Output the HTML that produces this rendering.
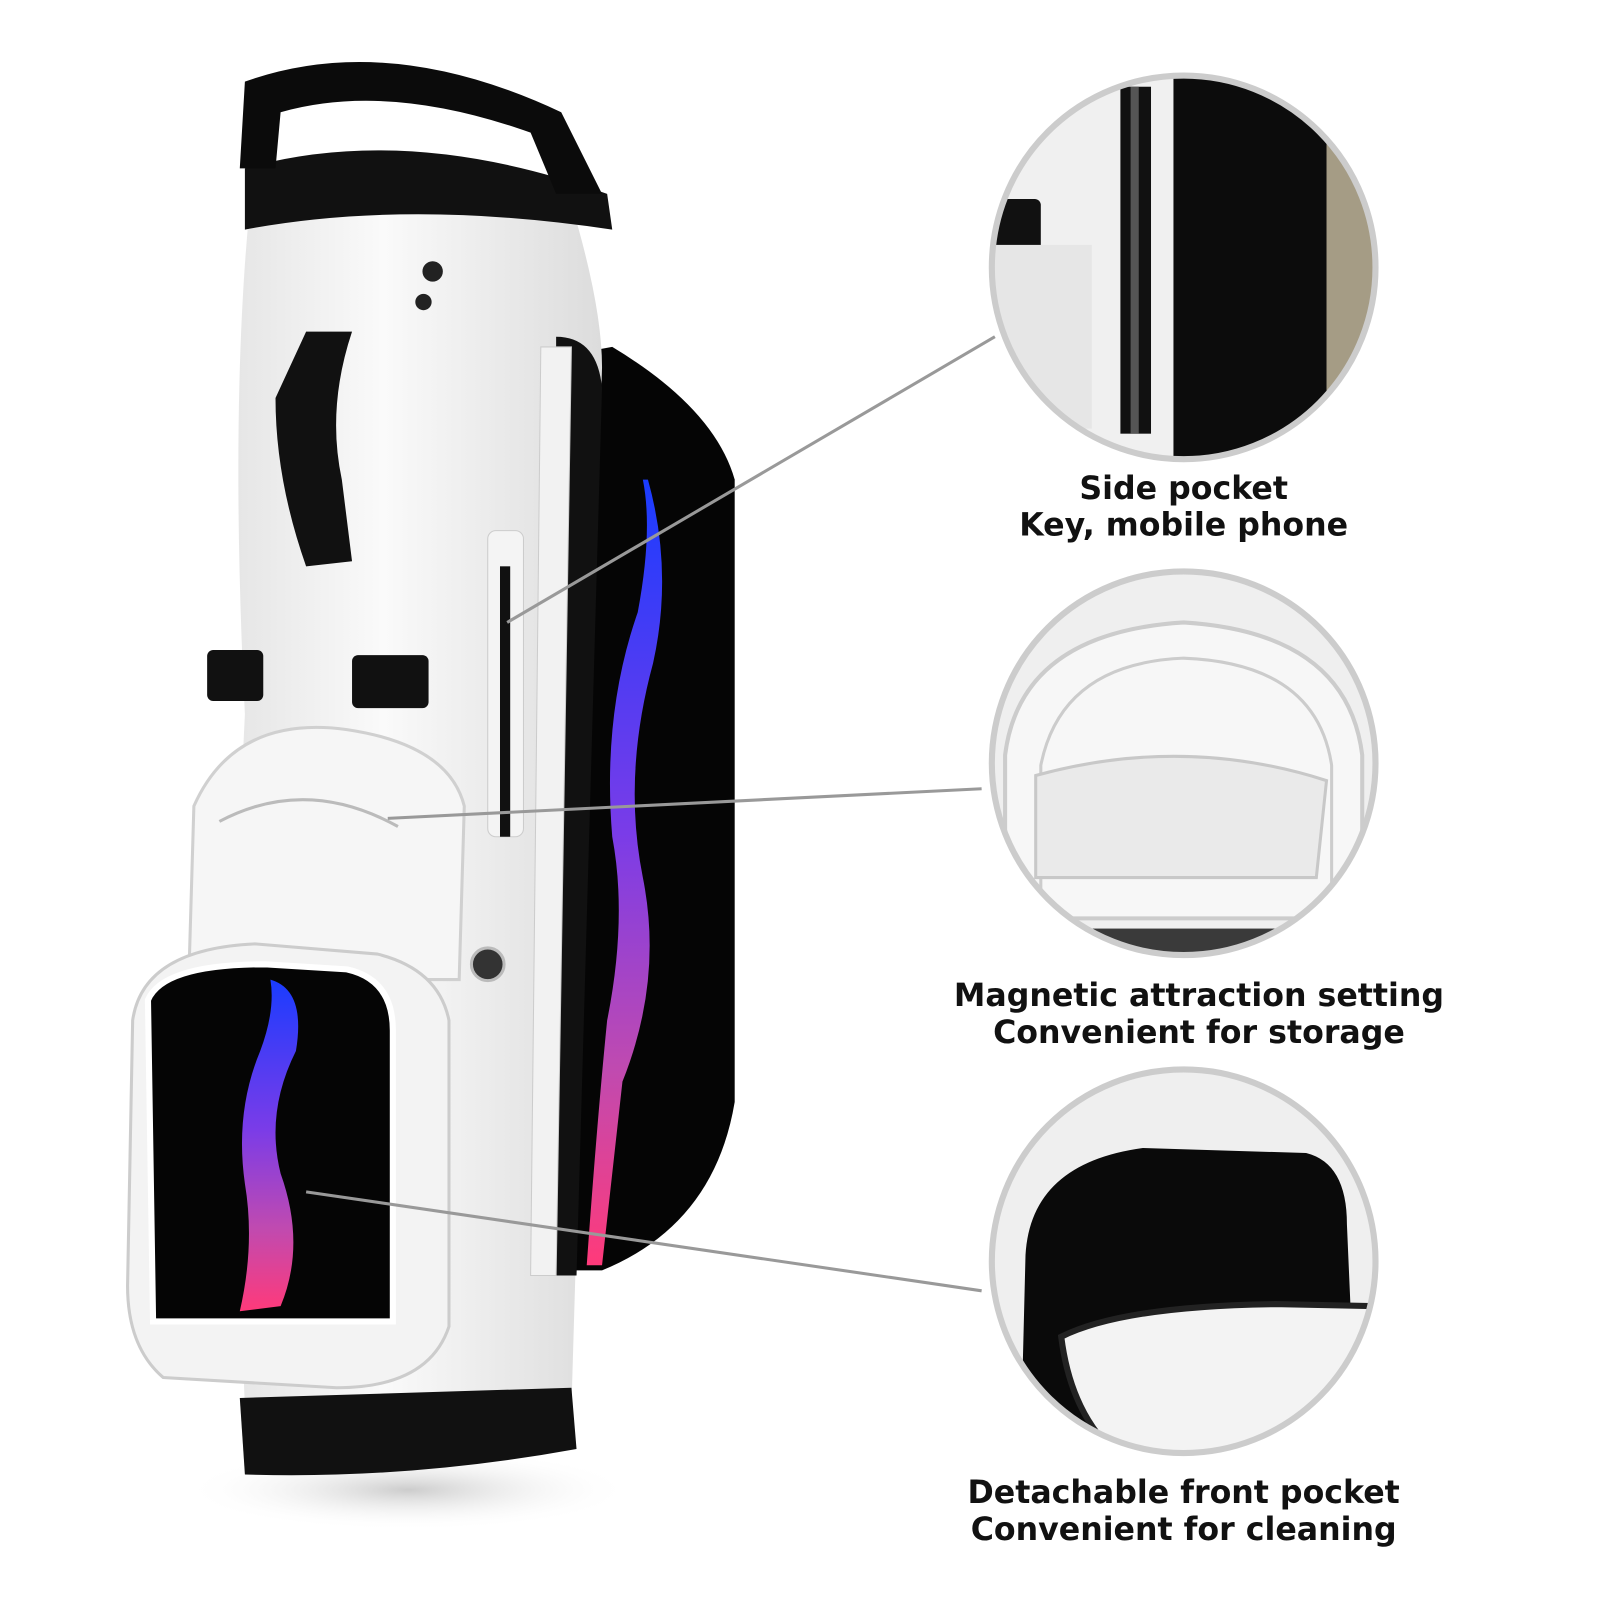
<!DOCTYPE html>
<html><head><meta charset="utf-8"><style>
html,body{margin:0;padding:0;background:#fff}
svg{display:block}
text{font-family:"DejaVu Sans","Liberation Sans",sans-serif;font-weight:bold;font-size:31px;fill:#111}
</style></head><body>
<svg width="1600" height="1600" viewBox="0 0 1600 1600" xmlns="http://www.w3.org/2000/svg">
<defs>
<linearGradient id="neb" x1="0" y1="0" x2="0" y2="1">
<stop offset="0" stop-color="#1a3cff"/><stop offset="0.45" stop-color="#7a3ce8"/><stop offset="0.75" stop-color="#c04ab0"/><stop offset="1" stop-color="#ff3a7a"/></linearGradient>
<linearGradient id="body" x1="0" y1="0" x2="1" y2="0">
<stop offset="0" stop-color="#e6e6e6"/><stop offset="0.4" stop-color="#fafafa"/><stop offset="1" stop-color="#dcdcdc"/></linearGradient>
<clipPath id="c1"><circle cx="1160" cy="262" r="188"/></clipPath>
<clipPath id="c2"><circle cx="1160" cy="748" r="188"/></clipPath>
<clipPath id="c3"><circle cx="1160" cy="1236" r="188"/></clipPath>
<radialGradient id="sh" cx="0.5" cy="0.5" r="0.5"><stop offset="0" stop-color="#ccc"/><stop offset="1" stop-color="#fff" stop-opacity="0"/></radialGradient>
</defs>
<g transform="scale(1.0204)">
<ellipse cx="400" cy="1460" rx="220" ry="40" fill="url(#sh)"/>
<path d="M600 340 Q700 400 720 470 L720 1080 Q700 1200 590 1245 L545 1245 L545 350 Z" fill="#050505"/>
<path d="M635 470 Q660 560 640 650 Q610 760 630 860 Q650 960 610 1060 Q600 1150 590 1240 L575 1240 Q585 1100 595 1000 Q615 900 600 820 Q590 700 625 600 Q640 520 630 470 Z" fill="url(#neb)"/>
<path d="M245 200 L560 200 Q590 300 590 360 L560 1380 L240 1380 Q225 1000 240 700 Q225 400 245 200 Z" fill="url(#body)"/>
<path d="M545 330 Q585 330 590 380 L565 1250 L545 1250 Z" fill="#111"/>
<path d="M530 340 L560 340 L545 1250 L520 1250 Z" fill="#f2f2f2" stroke="#ccc"/>
<path d="M240 165 Q400 120 595 190 L600 225 Q400 195 240 225 Z" fill="#111"/>
<path d="M240 80 Q380 30 550 110 L590 190 L545 190 L520 130 Q380 80 275 110 L270 165 L235 165 Z" fill="#0b0b0b"/>
<path d="M300 325 L345 325 Q320 400 335 470 L345 550 L300 555 Q270 470 270 390 Z" fill="#111"/>
<circle cx="424" cy="266" r="10" fill="#222"/><circle cx="415" cy="296" r="8" fill="#222"/>
<rect x="478" y="520" width="35" height="300" rx="8" fill="#f4f4f4" stroke="#ccc"/>
<rect x="490" y="555" width="10" height="265" fill="#111"/>
<rect x="203" y="637" width="55" height="50" rx="6" fill="#111"/>
<rect x="345" y="642" width="75" height="52" rx="6" fill="#111"/>
<circle cx="478" cy="945" r="16" fill="#333" stroke="#bbb" stroke-width="3"/>
<path d="M190 790 Q230 700 340 715 Q440 730 455 790 L450 960 L185 960 Z" fill="#f6f6f6" stroke="#d0d0d0" stroke-width="3"/>
<path d="M215 805 Q300 760 390 810" fill="none" stroke="#bbb" stroke-width="3"/>
<path d="M130 1000 Q140 930 250 925 L370 935 Q430 950 440 1000 L440 1300 Q420 1360 330 1360 L160 1350 Q125 1320 125 1260 Z" fill="#f3f3f3" stroke="#ccc" stroke-width="3"/>
<path d="M145 980 Q160 945 260 945 L340 950 Q385 960 385 1010 L385 1295 L150 1295 Z" fill="#050505" stroke="#fff" stroke-width="6"/>
<path d="M265 960 Q300 970 290 1030 Q260 1090 275 1150 Q300 1220 275 1280 L235 1285 Q250 1220 240 1160 Q230 1090 255 1030 Q270 990 265 960 Z" fill="url(#neb)"/>
<path d="M235 1370 L560 1360 L565 1420 Q400 1450 240 1445 Z" fill="#111"/>
<line x1="497" y1="610" x2="975" y2="330" stroke="#999" stroke-width="3"/>
<line x1="380" y1="802" x2="962" y2="773" stroke="#999" stroke-width="3"/>
<line x1="300" y1="1168" x2="962" y2="1265" stroke="#999" stroke-width="3"/>
<g clip-path="url(#c1)">
<rect x="960" y="60" width="400" height="400" fill="#f0f0f0"/>
<rect x="1150" y="60" width="170" height="400" fill="#0c0c0c"/>
<rect x="1300" y="60" width="60" height="400" fill="#a59c85"/>
<rect x="1098" y="85" width="30" height="340" fill="#111"/>
<rect x="1108" y="85" width="8" height="340" fill="#555"/>
<rect x="970" y="195" width="50" height="60" rx="6" fill="#111"/>
<rect x="960" y="240" width="110" height="180" fill="#e6e6e6"/>
</g>
<circle cx="1160" cy="262" r="188" fill="none" stroke="#ccc" stroke-width="6"/>
<g clip-path="url(#c2)">
<rect x="960" y="550" width="400" height="400" fill="#efefef"/>
<path d="M985 900 L985 740 Q1000 620 1160 610 Q1320 620 1335 740 L1335 900 Z" fill="#f7f7f7" stroke="#ccc" stroke-width="4"/>
<path d="M1020 900 L1020 750 Q1040 650 1160 645 Q1290 650 1305 750 L1305 900 Z" fill="none" stroke="#ccc" stroke-width="3"/>
<path d="M1015 760 Q1160 720 1300 765 L1290 860 L1015 860 Z" fill="#eaeaea" stroke="#c8c8c8" stroke-width="3"/>
<rect x="960" y="910" width="400" height="40" fill="#3a3a3a"/>
</g>
<circle cx="1160" cy="748" r="188" fill="none" stroke="#ccc" stroke-width="6"/>
<g clip-path="url(#c3)">
<rect x="960" y="1040" width="400" height="400" fill="#efefef"/>
<path d="M1005 1230 Q1010 1140 1120 1125 L1280 1130 Q1320 1140 1320 1200 L1330 1430 L1000 1430 Z" fill="#0a0a0a"/>
<path d="M1040 1310 Q1100 1280 1250 1278 L1345 1280 L1345 1430 L1100 1430 Q1050 1390 1040 1310 Z" fill="#f3f3f3" stroke="#222" stroke-width="6"/>
</g>
<circle cx="1160" cy="1236" r="188" fill="none" stroke="#ccc" stroke-width="6"/>
<text x="1160" y="489" text-anchor="middle">Side pocket</text>
<text x="1160" y="525" text-anchor="middle">Key, mobile phone</text>
<text x="1175" y="986" text-anchor="middle">Magnetic attraction setting</text>
<text x="1175" y="1022" text-anchor="middle">Convenient for storage</text>
<text x="1160" y="1473" text-anchor="middle">Detachable front pocket</text>
<text x="1160" y="1509" text-anchor="middle">Convenient for cleaning</text>
</g>
</svg>
</body></html>
